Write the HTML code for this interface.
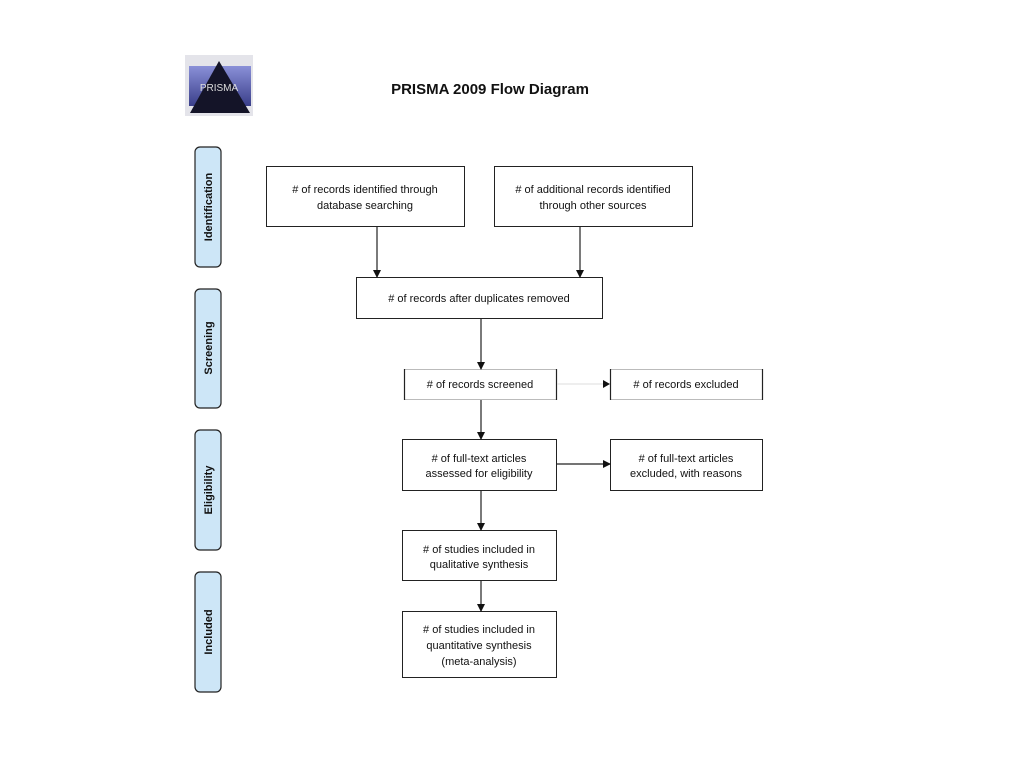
<!DOCTYPE html>
<html><head><meta charset="utf-8"><style>
html,body{margin:0;padding:0;background:#fff;}
svg{display:block;}
text{font-family:"Liberation Sans",sans-serif;fill:#111;}
</style></head><body>
<svg width="1024" height="768" viewBox="0 0 1024 768" xmlns="http://www.w3.org/2000/svg">
<defs>
<marker id="a" markerWidth="8" markerHeight="8" refX="7" refY="4" orient="auto" markerUnits="userSpaceOnUse">
<path d="M0,0 L8,4 L0,8 z" fill="#111"/></marker>
<linearGradient id="lg" x1="0" y1="0" x2="0" y2="1"><stop offset="0" stop-color="#8a90d8"/><stop offset="1" stop-color="#3a3f8a"/></linearGradient>
</defs>
<!-- logo -->
<rect x="185" y="55" width="68" height="61" fill="#e4e4ea"/>
<rect x="189" y="66" width="62" height="40" fill="url(#lg)"/>
<polygon points="219,61 190,113 250,113" fill="#141428"/>
<text x="219" y="91" font-size="10" font-family="Liberation Serif" text-anchor="middle" style="fill:#ddd">PRISMA</text>
<text x="490" y="94" font-size="15" font-weight="bold" text-anchor="middle">PRISMA 2009 Flow Diagram</text>
<!-- side labels -->
<g fill="#cde6f7" stroke="#222" stroke-width="1.2">
<rect x="195" y="147" width="26" height="120" rx="5"/>
<rect x="195" y="289" width="26" height="119" rx="5"/>
<rect x="195" y="430" width="26" height="120" rx="5"/>
<rect x="195" y="572" width="26" height="120" rx="5"/>
</g>
<g font-size="11" font-weight="bold" text-anchor="middle">
<text transform="translate(212,207) rotate(-90)">Identification</text>
<text transform="translate(212,348) rotate(-90)">Screening</text>
<text transform="translate(212,490) rotate(-90)">Eligibility</text>
<text transform="translate(212,632) rotate(-90)">Included</text>
</g>
<!-- boxes -->
<g fill="#fff" stroke="#222" stroke-width="1">
<rect x="266.5" y="166.5" width="198" height="60"/>
<rect x="494.5" y="166.5" width="198" height="60"/>
<rect x="356.5" y="277.5" width="246" height="41"/>
<rect x="402.5" y="439.5" width="154" height="51"/>
<rect x="610.5" y="439.5" width="152" height="51"/>
<rect x="402.5" y="530.5" width="154" height="50"/>
<rect x="402.5" y="611.5" width="154" height="66"/>
</g>
<g fill="#fff" stroke="#bbb" stroke-width="1">
<rect x="404.5" y="369.5" width="152" height="30"/>
<rect x="610.5" y="369.5" width="152" height="30"/>
</g>
<g stroke="#222" stroke-width="1.2">
<line x1="404.5" y1="369" x2="404.5" y2="400"/><line x1="556.5" y1="369" x2="556.5" y2="400"/>
<line x1="610.5" y1="369" x2="610.5" y2="400"/><line x1="762.5" y1="369" x2="762.5" y2="400"/>
</g>
<!-- arrows -->
<g stroke="#222" stroke-width="1.2" marker-end="url(#a)">
<line x1="377" y1="227" x2="377" y2="277"/>
<line x1="580" y1="227" x2="580" y2="277"/>
<line x1="481" y1="319" x2="481" y2="369"/>
<line x1="481" y1="400" x2="481" y2="439"/>
<line x1="557" y1="464" x2="610" y2="464"/>
<line x1="481" y1="491" x2="481" y2="530"/>
<line x1="481" y1="581" x2="481" y2="611"/>
</g>
<line x1="557" y1="384" x2="605" y2="384" stroke="#ddd" stroke-width="1"/>
<path d="M603,380 L610,384 L603,388 z" fill="#111"/>
<!-- texts -->
<g font-size="11" text-anchor="middle">
<text x="365" y="193">&#35; of records identified through</text>
<text x="365" y="209">database searching</text>
<text x="593" y="193"># of additional records identified</text>
<text x="593" y="209">through other sources</text>
<text x="479" y="302"># of records after duplicates removed</text>
<text x="480" y="388"># of records screened</text>
<text x="686" y="388"># of records excluded</text>
<text x="479" y="462"># of full-text articles</text>
<text x="479" y="477">assessed for eligibility</text>
<text x="686" y="462"># of full-text articles</text>
<text x="686" y="477">excluded, with reasons</text>
<text x="479" y="553"># of studies included in</text>
<text x="479" y="568">qualitative synthesis</text>
<text x="479" y="633"># of studies included in</text>
<text x="479" y="649">quantitative synthesis</text>
<text x="479" y="665">(meta-analysis)</text>
</g>
</svg>
</body></html>
